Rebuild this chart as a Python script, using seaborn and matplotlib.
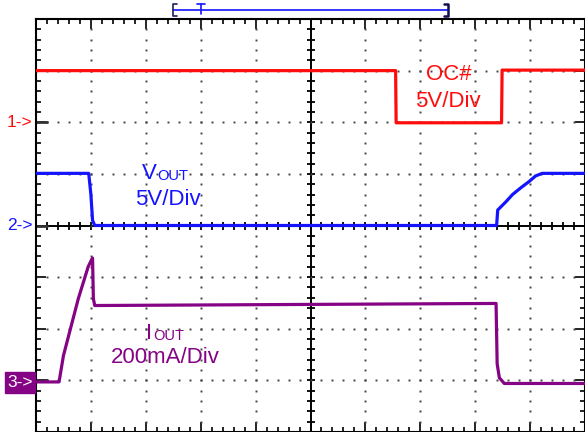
import numpy as np
import pandas as pd
import matplotlib
matplotlib.use("Agg")
import matplotlib.pyplot as plt
import seaborn as sns
from matplotlib.patches import Rectangle

# ---- data (time in divisions, level in divisions) ----
oc_t = [0, 6.55, 6.56, 8.48, 8.49, 10]
oc_v = [3.0, 3.0, 1.99, 1.99, 3.01, 3.01]

vout_t = [0, 0.96, 1.00, 1.03, 1.07, 8.39, 8.41, 8.56, 8.68, 8.83, 8.98, 9.10, 9.22, 10]
vout_v = [1.01, 1.01, 0.60, 0.10, 0.0, 0.0, 0.30, 0.46, 0.60, 0.73, 0.85, 0.96, 1.01, 1.01]

iout_t = [0, 0.42, 0.50, 0.77, 0.95, 1.00, 1.03, 1.045, 1.07, 8.38, 8.40, 8.44, 8.53, 10]
iout_v = [-3.03, -3.03, -2.52, -1.42, -0.80, -0.69, -0.63, -1.42, -1.55, -1.51, -2.68, -2.95, -3.06, -3.06]

channel_labels = ["1->", "2->", "3->"]
channel_levels = [2.0, 0.0, -3.0]

RED = "#ff0d0d"
BLUE = "#1414ff"
PURPLE = "#850385"

sns.set_theme(style="white")
plt.rcParams["font.family"] = ["Liberation Sans", "DejaVu Sans"]

fig = plt.figure(figsize=(5.85, 4.32), dpi=100)
ax = fig.add_axes([36 / 585, 0, 549 / 585, 413 / 432])
ax.set_xlim(0, 10)
ax.set_ylim(-4, 4)

# dotted graticule
gx = np.arange(0, 10.001, 0.2)
gy = np.arange(-4, 4.001, 0.2)
for xv in range(1, 10):
    if xv != 5:
        ax.plot(np.full_like(gy, xv), gy, ls="none", marker="s", ms=1.4, color="#444444", mew=0)
for yv in range(-3, 4):
    if yv != 0:
        ax.plot(gx, np.full_like(gx, yv), ls="none", marker="s", ms=1.4, color="#444444", mew=0)

# center cross with ticks
ax.axvline(5, color="black", lw=1.4, zorder=1)
ax.axhline(0, color="black", lw=1.4, zorder=1)
ax.plot(np.full_like(gy, 5), gy, ls="none", marker="_", ms=6, mew=1.3, color="black", zorder=1)
ax.plot(gx, np.zeros_like(gx), ls="none", marker="|", ms=6, mew=1.3, color="black", zorder=1)

# traces
df_oc = pd.DataFrame({"t": oc_t, "v": oc_v})
df_vo = pd.DataFrame({"t": vout_t, "v": vout_v})
df_io = pd.DataFrame({"t": iout_t, "v": iout_v})
sns.lineplot(data=df_oc, x="t", y="v", estimator=None, sort=False, color=RED, lw=2.3, ax=ax, zorder=3)
sns.lineplot(data=df_vo, x="t", y="v", estimator=None, sort=False, color=BLUE, lw=2.3, ax=ax, zorder=3)
sns.lineplot(data=df_io, x="t", y="v", estimator=None, sort=False, color=PURPLE, lw=2.3, ax=ax, zorder=3)

ax.set_xlabel("")
ax.set_ylabel("")
ax.set_xticks(np.arange(0, 11, 1))
ax.set_yticks(np.arange(-4, 5, 1))
ax.set_xticks(gx, minor=True)
ax.set_yticks(gy, minor=True)
ax.tick_params(which="both", direction="in", top=True, bottom=True, left=True, right=True,
               labelbottom=False, labelleft=False, color="black", width=1.2)
ax.tick_params(which="major", length=7)
ax.tick_params(which="minor", length=3.6)
for s in ax.spines.values():
    s.set_color("black")
    s.set_linewidth(1.5)

# trace labels
ax.text(7.52, 2.82, "OC#", color=RED, fontsize=16, ha="center", va="baseline")
ax.text(7.51, 2.30, "5V/Div", color=RED, fontsize=16, ha="center", va="baseline")
ax.text(1.925, 0.90, "V", color=BLUE, fontsize=16, ha="left", va="baseline")
ax.text(2.20, 0.88, "OUT", color=BLUE, fontsize=10.5, ha="left", va="baseline")
ax.text(2.40, 0.40, "5V/Div", color=BLUE, fontsize=16, ha="center", va="baseline")
ax.text(2.00, -2.20, "I", color=PURPLE, fontsize=16, ha="left", va="baseline")
ax.text(2.13, -2.21, "OUT", color=PURPLE, fontsize=10.5, ha="left", va="baseline")
ax.text(2.35, -2.67, "200mA/Div", color=PURPLE, fontsize=16, ha="center", va="baseline")

# channel markers
ax.text(-0.07, channel_levels[0], channel_labels[0], color=RED, fontsize=12.5, ha="right",
        va="center", clip_on=False)
ax.text(-0.07, channel_levels[1], channel_labels[1], color=BLUE, fontsize=12.5, ha="right",
        va="center", clip_on=False)
ax.add_patch(Rectangle((-0.565, -3.25), 0.547, 0.42, color=PURPLE, clip_on=False, zorder=5))
ax.text(-0.29, channel_levels[2] - 0.04, channel_labels[2], color="white", fontsize=12.5,
        ha="center", va="center", clip_on=False, zorder=6)
for lv in channel_levels:
    ax.plot([0, 0.2], [lv, lv], color="#333333", lw=2, clip_on=False, zorder=2)

# memory window bar on top
yb, yt, yl = 4.06, 4.29, 4.18
ax.plot([2.5, 7.5], [yl, yl], color=BLUE, lw=1.2, clip_on=False)
ax.plot([2.56, 2.5, 2.5, 2.56], [yt, yt, yb, yb], color="#202060", lw=1.2, clip_on=False)
ax.plot([7.44, 7.5, 7.5, 7.44], [yt, yt, yb, yb], color="#101050", lw=1.8, clip_on=False)
ax.plot([3.0, 3.0], [yl - 0.08, yt], color=BLUE, lw=1.2, clip_on=False)
ax.plot([2.93, 3.07], [yt, yt], color=BLUE, lw=1.2, clip_on=False)

fig.savefig("out.png", dpi=100)
